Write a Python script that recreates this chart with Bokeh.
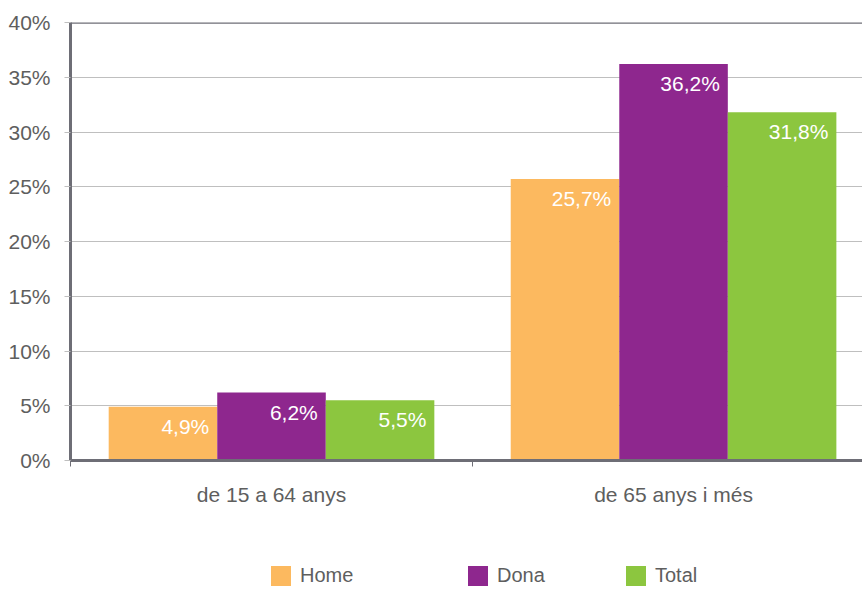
from bokeh.plotting import figure
from bokeh.layouts import column
from bokeh.models import (Range1d, FixedTicker, PrintfTickFormatter, Span,
                          Legend, LegendItem, ColumnDataSource)
from bokeh.core.properties import value
from bokeh.embed import file_html
from bokeh.resources import INLINE

groups = ["de 15 a 64 anys", "de 65 anys i més"]
series = ["Home", "Dona", "Total"]
home = [4.9, 25.7]
dona = [6.2, 36.2]
total = [5.5, 31.8]
colors = ["#FCB95F", "#8E278E", "#8CC63F"]
y_ticks = [0, 5, 10, 15, 20, 25, 30, 35, 40]

FONT = "Liberation Sans"
TXT = "#5E5E5E"
AX = "#6E6E76"

p = figure(width=862, height=510, output_backend="svg", toolbar_location=None,
           x_range=Range1d(0, 1.97), y_range=Range1d(0, 40),
           min_border_left=70, min_border_right=0, min_border_top=22,
           min_border_bottom=50)
p.outline_line_color = None

bar_w = 0.27
offsets = [-0.27, 0.0, 0.27]
sources = []
for vals, off, col in zip([home, dona, total], offsets, colors):
    xs = [i + 0.5 + off for i in range(len(groups))]
    src = ColumnDataSource(dict(
        x=xs, top=vals,
        xr=[x + bar_w / 2 for x in xs],
        lab=[("%.1f" % v).replace(".", ",") + "%" for v in vals]))
    sources.append(src)
    p.vbar(x="x", top="top", width=bar_w, bottom=0, source=src,
           fill_color=col, line_color=None)
    p.text(x="xr", y="top", text="lab", source=src, text_color="white",
           text_font=value(FONT), text_font_size="21px", text_align="right",
           text_baseline="top", x_offset=-8, y_offset=8)

p.add_layout(Span(location=40, dimension="width", line_color=AX, line_width=2.5))

# axes
p.yaxis.ticker = FixedTicker(ticks=y_ticks)
p.yaxis.formatter = PrintfTickFormatter(format="%d%%")
p.yaxis.axis_line_color = AX
p.yaxis.axis_line_width = 3
p.yaxis.major_tick_line_color = "#BFBFBF"
p.yaxis.major_tick_out = 6
p.yaxis.major_tick_in = 0
p.yaxis.minor_tick_line_color = None
p.yaxis.major_label_text_font = FONT
p.yaxis.major_label_text_font_size = "21px"
p.yaxis.major_label_text_color = TXT
p.yaxis.major_label_standoff = 14

p.xaxis.ticker = FixedTicker(ticks=[0.5, 1.5], minor_ticks=[0, 1, 2])
p.xaxis.major_label_overrides = {0.5: groups[0], 1.5: groups[1]}
p.xaxis.axis_line_color = AX
p.xaxis.axis_line_width = 3
p.xaxis.major_tick_line_color = None
p.xaxis.minor_tick_line_color = AX
p.xaxis.minor_tick_out = 6
p.xaxis.minor_tick_in = 0
p.xaxis.major_label_text_font = FONT
p.xaxis.major_label_text_font_size = "21px"
p.xaxis.major_label_text_color = TXT
p.xaxis.major_label_standoff = 16

p.xgrid.grid_line_color = None
p.ygrid.grid_line_color = "#BFBFBF"
p.ygrid.ticker = FixedTicker(ticks=y_ticks)

# legend strip below the chart (its frame is aligned with the chart's frame)
q = figure(width=862, height=79, output_backend="svg", toolbar_location=None,
           x_range=Range1d(0, 1.97), y_range=Range1d(0, 40),
           min_border=0, x_axis_location=None, y_axis_location=None)
q.outline_line_color = None
q.grid.grid_line_color = None
leg_x = [198, 395, 553]
for name, col, lx, src in zip(series, colors, leg_x, sources):
    # zero-height proxy bars, only used for the legend swatch
    r = q.vbar(x="x", top="top", bottom="top", width=bar_w, source=src,
               fill_color=col, line_color=None)
    lg = Legend(items=[LegendItem(label=name, renderers=[r])],
                location=(lx, 1), orientation="horizontal",
                glyph_width=25, glyph_height=25, label_standoff=7,
                padding=0, margin=0, border_line_color=None,
                background_fill_alpha=0,
                label_text_font=FONT, label_text_font_size="20px",
                label_text_color=TXT, label_text_baseline="middle")
    q.add_layout(lg, "center")

layout = column(p, q, spacing=0)
open("out.html", "w").write(file_html(layout, INLINE))
